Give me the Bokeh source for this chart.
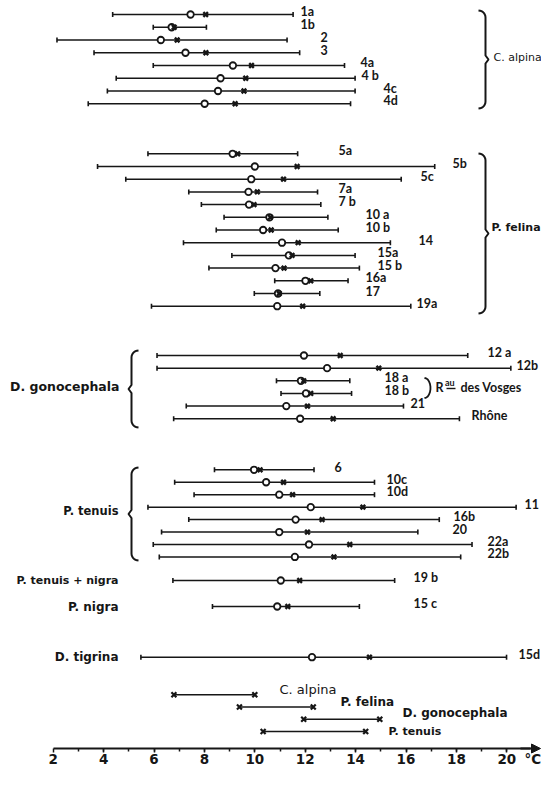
import numpy as np
from bokeh.plotting import figure
from bokeh.models import Range1d, FixedTicker, Arrow, NormalHead
from bokeh.core.properties import value
from bokeh.embed import file_html
from bokeh.resources import INLINE

# ---------------- data (temperature, degC) ----------------
alpina_ids = ["1a", "1b", "2", "3", "4a", "4 b", "4c", "4d"]
alpina_lo = [4.36, 5.97, 2.15, 3.62, 5.97, 4.50, 4.15, 3.39]
alpina_hi = [11.52, 8.08, 11.28, 11.78, 13.56, 13.98, 13.98, 13.80]
alpina_mean = [7.45, 6.70, 6.27, 7.25, 9.13, 8.64, 8.54, 8.01]
alpina_median = [8.05, 6.80, 6.92, 8.06, 9.87, 9.64, 9.57, 9.22]

felina_ids = ["5a", "5b", "5c", "7a", "7 b", "10 a", "10 b", "14", "15a", "15 b", "16a", "17", "19a"]
felina_lo = [5.76, 3.76, 4.88, 7.38, 7.88, 8.78, 8.47, 7.17, 9.09, 8.18, 10.79, 9.98, 5.90]
felina_hi = [11.70, 17.14, 15.81, 12.49, 12.62, 12.90, 13.31, 15.38, 13.98, 14.15, 13.70, 12.58, 16.19]
felina_mean = [9.12, 10.00, 9.86, 9.75, 9.77, 10.58, 10.33, 11.08, 11.35, 10.82, 12.01, 10.92, 10.89]
felina_median = [9.32, 11.68, 11.14, 10.10, 9.97, 10.62, 10.65, 11.72, 11.48, 11.16, 12.22, 10.97, 11.90]

gono_ids = ["12 a", "12b", "18 a", "18 b", "21", "Rhône"]
gono_lo = [6.12, 6.12, 10.86, 11.04, 7.28, 6.78]
gono_hi = [18.45, 20.16, 13.77, 13.84, 15.90, 18.12]
gono_mean = [11.95, 12.87, 11.83, 12.03, 11.25, 11.80]
gono_median = [13.39, 14.92, 11.94, 12.22, 12.09, 13.11]

tenuis_ids = ["6", "10c", "10d", "11", "16b", "20", "22a", "22b"]
tenuis_lo = [8.40, 6.82, 7.59, 5.76, 7.38, 6.30, 5.97, 6.21]
tenuis_hi = [12.35, 14.75, 14.75, 20.37, 17.32, 16.47, 18.62, 18.17]
tenuis_mean = [9.97, 10.45, 10.97, 12.22, 11.62, 10.97, 12.15, 11.59]
tenuis_median = [10.21, 11.14, 11.50, 14.29, 12.67, 12.09, 13.77, 13.14]

other_groups = ["P. tenuis + nigra", "P. nigra", "D. tigrina"]
other_ids = ["19 b", "15 c", "15d"]
other_lo = [6.75, 8.32, 5.48]
other_hi = [15.55, 14.15, 19.99]
other_mean = [11.03, 10.89, 12.27]
other_median = [11.78, 11.31, 14.55]

summary_species = ["C. alpina", "P. felina", "D. gonocephala", "P. tenuis"]
summary_lo = [6.79, 9.39, 11.94, 10.33]
summary_hi = [10.00, 12.32, 14.96, 14.40]

tick_values = [2, 4, 6, 8, 10, 12, 14, 16, 18, 20]
axis_unit = "°C"

# ---------------- layout / style ----------------
FONT = "Lato"
WIDE = "DejaVu Sans"
INK = "#161616"
W, H = 541, 770
AXIS_Y = 748


def px2t(px):
    """picture pixel column -> degC (layout helper for decorations)"""
    return 2 + (px - 52.7) / 25.2


def rows(y0, step, n):
    return [y0 + i * step for i in range(n)]


alpina_y = rows(14.0, 12.75, len(alpina_ids))
felina_y = rows(153.3, 12.7, len(felina_ids))
gono_y = rows(355.0, 12.65, len(gono_ids))
tenuis_y = rows(469.3, 12.45, len(tenuis_ids))
other_y = [580.0, 606.0, 656.7]
summary_y = rows(694.3, 12.25, len(summary_species))

alpina_lab_px = [300, 300, 320, 320, 360, 361, 383, 383]
felina_lab_px = [338, 452, 420, 338, 338, 365, 365, 418, 377, 377, 365, 365, 416]
gono_lab_px = [487, 516, 384, 384, 410, 471]
tenuis_lab_px = [334, 386, 386, 524, 453, 452, 487, 487]
other_lab_px = [413, 413, 518]

p = figure(width=W, height=H, output_backend="svg", toolbar_location=None,
           x_range=Range1d(px2t(0), px2t(W)), y_range=Range1d(H, 0),
           min_border_left=0, min_border_right=0, min_border_top=0,
           min_border_bottom=0, y_axis_location=None)
p.xgrid.visible = False
p.ygrid.visible = False
p.outline_line_color = None
p.background_fill_color = "white"


def txt(xs, ys, texts, font=FONT, size="12px", style="bold", align="left"):
    p.text(x=xs, y=ys, text=texts, text_font=value(font), text_font_style=style,
           text_font_size=size, text_align=align, text_baseline="middle", text_color=INK)


def draw_rows(lo, hi, mean, median, ys, ids, lab_px, dy=-3.0):
    p.segment(x0=lo, y0=ys, x1=hi, y1=ys, line_width=1.5, line_color=INK)
    p.scatter(list(lo) + list(hi), list(ys) * 2, marker="dash", angle=np.pi / 2,
              size=5, line_width=1.6, line_color=INK)
    p.scatter(mean, ys, marker="circle", size=6.5, fill_color="white",
              line_width=1.8, line_color=INK)
    p.scatter(median, ys, marker="x", size=6.5, line_width=2.4, line_color=INK)
    txt([px2t(v) for v in lab_px], [y + dy for y in ys], ids, size="12.5px")


draw_rows(alpina_lo, alpina_hi, alpina_mean, alpina_median, alpina_y, alpina_ids, alpina_lab_px)
draw_rows(felina_lo, felina_hi, felina_mean, felina_median, felina_y, felina_ids, felina_lab_px)
draw_rows(gono_lo, gono_hi, gono_mean, gono_median, gono_y, gono_ids, gono_lab_px)
draw_rows(tenuis_lo, tenuis_hi, tenuis_mean, tenuis_median, tenuis_y, tenuis_ids, tenuis_lab_px)
draw_rows(other_lo, other_hi, other_mean, other_median, other_y, other_ids, other_lab_px)

# summary ranges (x at both ends)
p.segment(x0=summary_lo, y0=summary_y, x1=summary_hi, y1=summary_y, line_width=1.5, line_color=INK)
p.scatter(summary_lo + summary_hi, summary_y * 2, marker="x", size=7, line_width=2.2, line_color=INK)
txt([px2t(279)], [summary_y[0] - 5], [summary_species[0]], font=WIDE, size="13px", style="normal")
txt([px2t(340), px2t(402)], [summary_y[1] - 5, summary_y[2] - 6], summary_species[1:3],
    font=WIDE, size="12px")
txt([px2t(388)], [summary_y[3]], [summary_species[3]], font=WIDE, size="11px")

# group names on the left (right aligned)
txt([px2t(119)], [386], ["D. gonocephala"], font=WIDE, size="12.5px", align="right")
txt([px2t(118)], [510.7], ["P. tenuis"], font=WIDE, size="11.5px", align="right")
txt([px2t(118)], [other_y[0]], [other_groups[0]], font=WIDE, size="11px", align="right")
txt([px2t(118)] * 2, other_y[1:], other_groups[1:], font=WIDE, size="12px", align="right")

# group names on the right
txt([px2t(493)], [57], ["C. alpina"], font=WIDE, size="11px", style="normal")
txt([px2t(491)], [227], ["P. felina"], font=WIDE, size="11px")


# braces
def curve(cx, cy, rx, ry, a0, a1, n=8):
    a = np.linspace(a0, a1, n)
    return list(cx + rx * np.cos(a)), list(cy + ry * np.sin(a))


def brace(xv, top, bot, side, hook=7, notch=3):
    # side=+1 -> "}" (hooks point left), side=-1 -> "{" (hooks point right)
    s = side
    mid = (top + bot) / 2
    xs, ys = [], []
    cx0, cy0 = curve(xv - s * hook, top + hook, s * hook, hook, -np.pi / 2, 0)
    xs += cx0; ys += cy0
    xs += [xv, xv + s * notch, xv, xv]
    ys += [mid - 4, mid, mid + 4, bot - hook]
    cx1, cy1 = curve(xv - s * hook, bot - hook, s * hook, hook, 0, np.pi / 2)
    xs += cx1; ys += cy1
    return [px2t(v) for v in xs], ys


braces = [(485, 10, 108, 1), (485, 153, 313, 1), (131, 350, 427, -1), (131, 467, 560, -1)]
bx, by = [], []
for xv, t, b, sd in braces:
    a, c = brace(xv, t, b, sd)
    bx.append(a); by.append(c)
p.multi_line(bx, by, line_width=2, line_color=INK)

# small ")" for 18a / 18b  + "Rau des Vosges"
sx, sy = curve(424, 387.5, 6, 10, -np.pi / 2, np.pi / 2, n=12)
p.line([px2t(v) for v in sx], sy, line_width=1.8, line_color=INK)
txt([px2t(435)], [387], ["R"], size="12.5px")
txt([px2t(444.5)], [382], ["au"], size="9px")
p.segment(x0=[px2t(446)], y0=[388], x1=[px2t(455)], y1=[388], line_width=1.4, line_color=INK)
txt([px2t(460)], [387], ["des Vosges"], size="12.5px")

# temperature axis, drawn at a fixed location inside the canvas
ax = p.xaxis[0]
ax.fixed_location = AXIS_Y
ax.ticker = FixedTicker(ticks=tick_values, minor_ticks=list(range(3, 22)))
ax.bounds = (2, px2t(530))
ax.axis_line_width = 2
ax.axis_line_color = INK
ax.major_tick_in = 0
ax.major_tick_out = 4
ax.minor_tick_in = 0
ax.minor_tick_out = 3
ax.major_tick_line_width = 1.5
ax.minor_tick_line_width = 1.5
ax.major_tick_line_color = INK
ax.minor_tick_line_color = INK
ax.major_label_standoff = 1
ax.major_label_text_font = WIDE
ax.major_label_text_font_style = "bold"
ax.major_label_text_font_size = "13.5px"
ax.major_label_text_color = INK

p.add_layout(Arrow(end=NormalHead(size=9, fill_color=INK, line_color=INK),
                   x_start=px2t(520), y_start=AXIS_Y, x_end=px2t(540), y_end=AXIS_Y,
                   line_width=2, line_color=INK))
txt([px2t(524)], [AXIS_Y + 10], [axis_unit], font=WIDE, size="13.5px")

open("out.html", "w").write(file_html(p, INLINE))
